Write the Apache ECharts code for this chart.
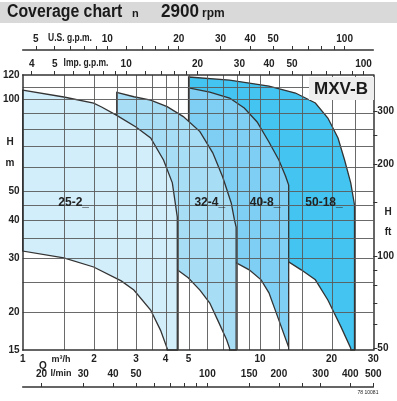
<!DOCTYPE html>
<html>
<head>
<meta charset="utf-8">
<script src="https://cdn.jsdelivr.net/npm/echarts@6/dist/echarts.min.js"></script>
<style>
html,body{margin:0;padding:0;background:#fff;}
#chart{width:397px;height:401px;}
</style>
</head>
<body>
<div id="chart"></div>
<script>
// Q en m3/h, H en m (axes log)
var qLabels = [1, 2, 3, 4, 5, 10, 20, 30];
var qGrid = [1.5, 2, 2.5, 3, 3.5, 4, 4.5, 5, 6, 7, 8, 9, 10, 12, 15, 20, 25];
var hLabels = [15, 20, 30, 40, 50, 100, 120];
var hGrid = [20, 25, 30, 35, 40, 45, 50, 60, 70, 80, 90, 100, 110];
var ftLabels = [50, 100, 200, 300];
var ftTicks = [50, 60, 70, 80, 90, 100, 150, 200, 250, 300];
var usLabels = [5, 10, 20, 30, 40, 50, 100];
var usTicks = [5, 6, 7, 8, 9, 10, 12, 14, 16, 18, 20, 30, 40, 50, 60, 70, 80, 90, 100];
var impLabels = [4, 5, 10, 20, 30, 40, 50, 100];
var impTicks = [4, 5, 6, 7, 8, 9, 10, 12, 14, 16, 18, 20, 30, 40, 50, 60, 70, 80, 90, 100];
var lminLabels = [20, 30, 40, 50, 100, 150, 200, 300, 400, 500];
var lminTicks = [20, 30, 40, 50, 60, 70, 80, 90, 100, 150, 200, 250, 300, 400, 500];

// courbes des pompes [Q, H]
var p25_top = [[1, 107], [1.49, 101.6], [1.99, 97], [2.15, 94.2], [2.48, 88.6], [3.0, 81], [3.46, 74.6], [3.92, 63.1], [4.27, 53.1], [4.48, 41]];
var p25_bottom = [[1, 31.7], [1.49, 30.1], [1.99, 28.1], [2.6, 25.3], [2.94, 23.6], [3.46, 20.3], [3.81, 17.4], [4.07, 15.1]];
var p25_right = 4.48;

var p32_top = [[2.49, 105.3], [2.94, 101.8], [3.46, 99.3], [4.06, 94.5], [4.75, 87.6], [5.58, 78.2], [6.32, 66.6], [6.96, 55.5], [7.56, 45.6], [7.8, 40.1], [7.93, 38]];
var p32_bottom = [[2.49, 34], [3.5, 31], [4.48, 27.5], [4.98, 25.9], [5.58, 23.6], [6.14, 21.4], [6.63, 18.8], [7.23, 16.2], [7.44, 15.2]];
var p32_right = 7.93;

var p40_top = [[5.0, 108.8], [6.14, 105.5], [7.44, 100.8], [8.58, 93.5], [9.72, 84.1], [10.9, 72.3], [12.0, 63.1], [12.8, 55.9], [13.2, 52.2]];
var p40_bottom = [[5.0, 31.5], [7.95, 29], [9.0, 27.5], [10.1, 25.5], [10.9, 23.1], [12.0, 18.8], [13.2, 15.3]];
var p40_right = 13.2;

var p50_top = [[5.0, 118.2], [7.44, 115.5], [10.9, 110.4], [14.1, 104.7], [17.1, 97.1], [19.3, 86.7], [21.3, 74.5], [22.7, 63.1], [24.1, 53.1], [25.0, 44.9]];
var p50_bottom = [[5.0, 33], [13.2, 29.2], [14.9, 27.5], [17.1, 25.5], [19.3, 21.9], [21.9, 17.9], [24.1, 15.2]];
var p50_right = 25.0;

var pumpNames = ['25-2_', '32-4_', '40-8_', '50-18_'];
var pumpColors = ['#d3eefb', '#a8ddf6', '#7ecff3', '#44c5f1'];
var labelPos = [[1.64, 45.6], [6.14, 45.6], [10.5, 45.6], [18.6, 45.6]];

var hMin = 15, hMax = 120, qMin = 1, qMax = 30;
// conversions d'unites
var M3H_USGPM = 4.4029, M3H_IMPGPM = 3.6662, M3H_LMIN = 16.6667, M_FT = 3.28084;

var FONT = '"Liberation Sans", Arial';

function region(top, bottom, qRight) {
    var pts = top.slice();
    pts.push([qRight, hMin]);
    pts.push([bottom[bottom.length - 1][0], hMin]);
    for (var i = bottom.length - 1; i >= 0; i--) pts.push(bottom[i]);
    return pts;
}

var regions = [
    region(p25_top, p25_bottom, p25_right),
    region(p32_top, p32_bottom, p32_right),
    region(p40_top, p40_bottom, p40_right),
    region(p50_top, p50_bottom, p50_right)
];

function px(v) { return Math.round(v) + 0.5; }

// une seule serie : zones (grande pompe dessous), puis quadrillage, puis textes
var coverageSeries = {
    type: 'custom',
    xAxisIndex: 0,
    yAxisIndex: 0,
    z: 2,
    silent: true,
    data: [[qMin, hMin]],
    renderItem: function (params, api) {
        var kids = [];
        var zz = 1;
        for (var i = 3; i >= 0; i--) {
            var c = regions[i].map(function (p) { return api.coord(p); });
            kids.push({ type: 'polygon', z2: zz++, shape: { points: c }, style: { fill: pumpColors[i], stroke: '#333', lineWidth: 1.3 } });
        }
        qGrid.forEach(function (q) {
            var a = api.coord([q, hMin]), b = api.coord([q, hMax]);
            kids.push({ type: 'line', z2: 20, shape: { x1: px(a[0]), y1: a[1], x2: px(b[0]), y2: b[1] }, style: { stroke: '#5a5a5a', lineWidth: 1, opacity: 0.9 } });
        });
        hGrid.forEach(function (h) {
            var a = api.coord([qMin, h]), b = api.coord([qMax, h]);
            kids.push({ type: 'line', z2: 20, shape: { x1: a[0], y1: px(a[1]), x2: b[0], y2: px(b[1]) }, style: { stroke: '#5a5a5a', lineWidth: 1, opacity: 0.9 } });
        });
        labelPos.forEach(function (p, k) {
            var c = api.coord(p);
            kids.push({ type: 'text', z2: 30, x: c[0], y: c[1], style: { text: pumpNames[k], fill: '#222', font: 'bold 12px ' + FONT, align: 'center', verticalAlign: 'middle' } });
        });
        return { type: 'group', children: kids };
    }
};

var txt = { color: '#222', fontSize: 10, fontWeight: 'bold', fontFamily: FONT };
var line = { show: true, lineStyle: { color: '#333', width: 1.5 } };

var chart = echarts.init(document.getElementById('chart'));
var option = {
    animation: false,
    grid: { left: 20, right: 21, top: 75, bottom: 51, containLabel: false },
    xAxis: [{
        type: 'log', position: 'bottom', min: qMin, max: qMax, z: 5,
        axisLine: line,
        axisTick: { show: false },
        axisLabel: Object.assign({ customValues: qLabels, margin: 4 }, txt),
        splitLine: { show: false }
    }, {
        type: 'log', position: 'bottom', offset: 37, min: qMin * M3H_LMIN, max: qMax * M3H_LMIN, z: 5,
        axisLine: line,
        axisTick: { show: true, inside: true, length: 4, customValues: lminTicks, lineStyle: { color: '#333' } },
        axisLabel: Object.assign({ customValues: lminLabels, inside: true, margin: 8 }, txt),
        splitLine: { show: false }
    }, {
        type: 'log', position: 'top', offset: 0, min: qMin * M3H_IMPGPM, max: qMax * M3H_IMPGPM, z: 5,
        axisLine: line,
        axisTick: { show: true, length: 4, customValues: impTicks, lineStyle: { color: '#333' } },
        axisLabel: Object.assign({ customValues: impLabels, margin: 6 }, txt),
        splitLine: { show: false }
    }, {
        type: 'log', position: 'top', offset: 25, min: qMin * M3H_USGPM, max: qMax * M3H_USGPM, z: 5,
        axisLine: line,
        axisTick: { show: true, length: 4, customValues: usTicks, lineStyle: { color: '#333' } },
        axisLabel: Object.assign({ customValues: usLabels, margin: 6 }, txt),
        splitLine: { show: false }
    }],
    yAxis: [{
        type: 'log', position: 'left', min: hMin, max: hMax, z: 5,
        axisLine: line,
        axisTick: { show: false },
        axisLabel: Object.assign({ customValues: hLabels, margin: 3 }, txt),
        splitLine: { show: false }
    }, {
        type: 'log', position: 'right', min: hMin * M_FT, max: hMax * M_FT, z: 5,
        axisLine: line,
        axisTick: { show: true, length: 4, customValues: ftTicks, lineStyle: { color: '#333' } },
        axisLabel: Object.assign({ customValues: ftLabels, margin: 4 }, txt),
        splitLine: { show: false }
    }],
    graphic: [
        { type: 'rect', shape: { x: 0, y: 2, width: 397, height: 21 }, style: { fill: '#d9d9d9' }, z: 1 },
        { type: 'text', x: 7, y: 12, scaleX: 0.88, style: { text: 'Coverage chart', font: 'bold 18px ' + FONT, fill: '#1a1a1a', verticalAlign: 'middle' }, z: 2 },
        { type: 'text', x: 132, y: 14, style: { text: 'n', font: 'bold 11px ' + FONT, fill: '#1a1a1a', verticalAlign: 'middle' }, z: 2 },
        { type: 'text', x: 161, y: 12, scaleX: 0.95, style: { text: '2900', font: 'bold 18px ' + FONT, fill: '#1a1a1a', verticalAlign: 'middle' }, z: 2 },
        { type: 'text', x: 202, y: 14, style: { text: 'rpm', font: 'bold 12px ' + FONT, fill: '#1a1a1a', verticalAlign: 'middle' }, z: 2 },
        { type: 'text', x: 70, y: 38, scaleX: 0.85, style: { text: 'U.S. g.p.m.', font: 'bold 10px ' + FONT, fill: '#222', align: 'center', verticalAlign: 'middle' }, z: 2 },
        { type: 'text', x: 86, y: 63, scaleX: 0.85, style: { text: 'Imp. g.p.m.', font: 'bold 10px ' + FONT, fill: '#222', align: 'center', verticalAlign: 'middle' }, z: 2 },
        { type: 'text', x: 10, y: 142, style: { text: 'H', font: 'bold 10px ' + FONT, fill: '#222', align: 'center', verticalAlign: 'middle' }, z: 2 },
        { type: 'text', x: 10, y: 163, style: { text: 'm', font: 'bold 10px ' + FONT, fill: '#222', align: 'center', verticalAlign: 'middle' }, z: 2 },
        { type: 'text', x: 388, y: 212, style: { text: 'H', font: 'bold 10px ' + FONT, fill: '#222', align: 'center', verticalAlign: 'middle' }, z: 2 },
        { type: 'text', x: 388, y: 232, style: { text: 'ft', font: 'bold 10px ' + FONT, fill: '#222', align: 'center', verticalAlign: 'middle' }, z: 2 },
        { type: 'text', x: 43, y: 366, style: { text: 'Q', font: 'bold 10px ' + FONT, fill: '#222', align: 'center', verticalAlign: 'middle' }, z: 2 },
        { type: 'text', x: 61, y: 360, style: { text: 'm³/h', font: 'bold 9px ' + FONT, fill: '#222', align: 'center', verticalAlign: 'middle' }, z: 2 },
        { type: 'text', x: 61, y: 374, style: { text: 'l/min', font: 'bold 9px ' + FONT, fill: '#222', align: 'center', verticalAlign: 'middle' }, z: 2 },
        { type: 'text', x: 368, y: 393, style: { text: '78 10081', font: '5px ' + FONT, fill: '#222', align: 'center', verticalAlign: 'middle' }, z: 2 },
        { type: 'rect', shape: { x: 309, y: 77, width: 65, height: 23 }, style: { fill: '#eeeeee' }, z: 20 },
        { type: 'text', x: 341, y: 89, style: { text: 'MXV-B', font: 'bold 17px ' + FONT, fill: '#1a1a1a', align: 'center', verticalAlign: 'middle' }, z: 21 }
    ],
    series: [coverageSeries]
};
chart.setOption(option);
</script>
</body>
</html>
